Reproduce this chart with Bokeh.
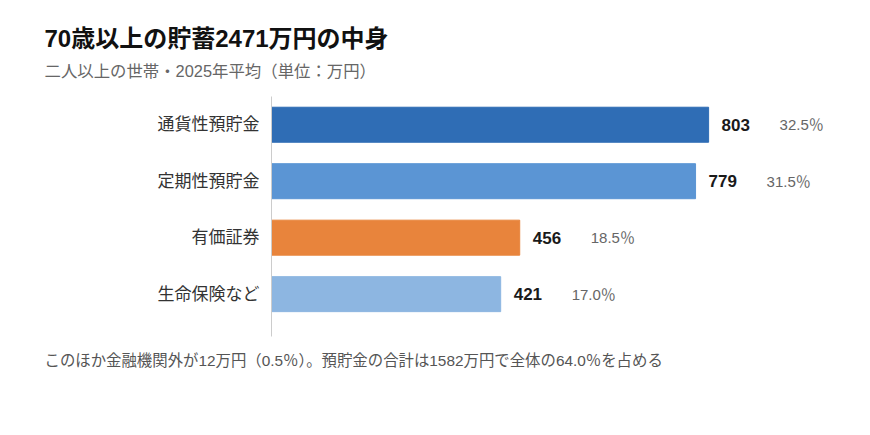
from bokeh.plotting import figure
from bokeh.models import Range1d, FixedTicker, Title, ColumnDataSource
from bokeh.core.properties import value
from bokeh.embed import file_html
from bokeh.resources import INLINE

FONT = "Liberation Sans, Noto Sans CJK JP"

# data (単位: 万円)
categories = ["通貨性預貯金", "定期性預貯金", "有価証券", "生命保険など"]
amounts = [803, 779, 456, 421]
shares = [32.5, 31.5, 18.5, 17.0]
bar_colors = ["#2f6db5", "#5b95d4", "#e8843c", "#8db6e1"]

title_text = "70歳以上の貯蓄2471万円の中身"
subtitle_text = "二人以上の世帯・2025年平均（単位：万円）"
note_text = "このほか金融機関外が12万円（0.5％）。預貯金の合計は1582万円で全体の64.0％を占める"

rows = list(range(len(categories)))
src = ColumnDataSource(dict(
    y=rows,
    amount=amounts,
    color=bar_colors,
    amount_label=[str(a) for a in amounts],
    share_label=[f"{s:.1f}％" for s in shares],
))

p = figure(width=860, height=425, output_backend="svg", toolbar_location=None,
           x_range=Range1d(0, 1082), y_range=Range1d(3.75, -0.5),
           x_axis_location=None,
           min_border_left=271, min_border_right=0,
           min_border_top=96, min_border_bottom=89)

p.hbar(y="y", right="amount", left=0, height=0.62, color="color", source=src)

p.text(x="amount", y="y", text="amount_label", x_offset=13,
       text_baseline="middle", text_font=value(FONT), text_font_style="bold",
       text_font_size="17px", text_color="#1a1a1a", source=src)
p.text(x="amount", y="y", text="share_label", x_offset=71,
       text_baseline="middle", text_font=value(FONT),
       text_font_size="15px", text_color="#666666", source=src)

ax = p.yaxis[0]
ax.ticker = FixedTicker(ticks=rows)
ax.major_label_overrides = {i: c for i, c in zip(rows, categories)}
ax.major_label_text_font = FONT
ax.major_label_text_font_size = "17px"
ax.major_label_text_color = "#333333"
ax.major_label_standoff = 12
ax.major_tick_line_color = None
ax.minor_tick_line_color = None
ax.major_tick_out = 0
ax.axis_line_color = "#cccccc"

p.xgrid.visible = False
p.ygrid.visible = False
p.outline_line_color = None

# subtitle first so it sits nearest the frame, then the main title
p.add_layout(Title(text=subtitle_text, text_font=FONT, text_font_size="16.4px",
                   text_font_style="normal", text_color="#666666",
                   align="left", offset=-227, standoff=34), "above")
p.add_layout(Title(text=title_text, text_font=FONT, text_font_size="24px",
                   text_font_style="bold", text_color="#111111",
                   align="left", offset=-227, standoff=-18), "above")
p.add_layout(Title(text=note_text, text_font=FONT, text_font_size="15.4px",
                   text_font_style="normal", text_color="#555555",
                   align="left", offset=-227, standoff=26), "below")

open("out.html", "w").write(file_html(p, INLINE))
